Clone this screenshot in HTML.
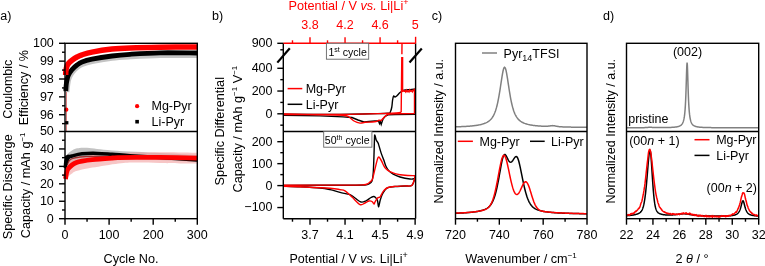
<!DOCTYPE html><html><head><meta charset="utf-8"><style>html,body{margin:0;padding:0;background:#fff;overflow:hidden}svg{display:block;will-change:transform}</style></head><body><svg width="765" height="266" viewBox="0 0 765 266" font-family='"Liberation Sans", sans-serif'>
<rect width="765" height="266" fill="#fff"/>
<path d="M65.3 163 C65.5 162 66.05 158.58 66.5 157 C66.95 155.42 67.08 154.6 68 153.5 C68.92 152.4 70.5 151.27 72 150.4 C73.5 149.53 74.5 148.73 77 148.3 C79.5 147.87 81.17 147.43 87 147.8 C92.83 148.17 99.83 149.63 112 150.5 C124.17 151.37 145.78 152.25 160 153 C174.22 153.75 191.08 154.67 197.3 155 L197.3 162 C191.08 161.67 174.22 160.58 160 160 C145.78 159.42 124.17 158.58 112 158.5 C99.83 158.42 92.83 159.08 87 159.5 C81.17 159.92 79.5 160.42 77 161 C74.5 161.58 73.5 162.17 72 163 C70.5 163.83 69.12 164.5 68 166 C66.88 167.5 65.75 171 65.3 172 Z" fill="#b4b4b4" fill-opacity="0.8" stroke="none"/>
<path d="M65.3 172 C65.5 171 66.05 167.58 66.5 166 C66.95 164.42 67.08 163.75 68 162.5 C68.92 161.25 69.67 159.58 72 158.5 C74.33 157.42 75.33 156.85 82 156 C88.67 155.15 99 154.02 112 153.4 C125 152.78 145.78 152.4 160 152.3 C174.22 152.2 191.08 152.72 197.3 152.8 L197.3 163.6 C191.08 163.48 170.22 163.1 160 162.9 C149.78 162.7 142.9 162.32 136 162.4 C129.1 162.48 125.88 162.53 118.6 163.4 C111.32 164.27 99.32 166.33 92.3 167.6 C85.28 168.87 79.88 170.02 76.5 171 C73.12 171.98 73.42 172.5 72 173.5 C70.58 174.5 69.12 175.58 68 177 C66.88 178.42 65.75 181.17 65.3 182 Z" fill="#f2a0a0" fill-opacity="0.6" stroke="none"/>
<path d="M64.9 156 L68 154.5 L71.5 155.2 L69.5 159 L67.5 164 L66 169 L64.9 170 Z" fill="#000"/>
<path d="M67 165 C67.33 164.33 68.17 162.07 69 161 C69.83 159.93 70.17 159.27 72 158.6 C73.83 157.93 76.67 157.37 80 157 C83.33 156.63 87 156.43 92 156.4 C97 156.37 103.67 156.67 110 156.8 C116.33 156.93 126.67 157.13 130 157.2" fill="none" stroke="#8a1010" stroke-opacity="0.8" stroke-width="1.3"/>
<path d="M65.3 168 C65.42 166.83 65.55 162.75 66 161 C66.45 159.25 67 158.33 68 157.5 C69 156.67 69.67 156.62 72 156 C74.33 155.38 77.83 154.23 82 153.8 C86.17 153.37 92 153.32 97 153.4 C102 153.48 106.5 153.92 112 154.3 C117.5 154.68 122 155.15 130 155.7 C138 156.25 148.78 156.88 160 157.6 C171.22 158.32 191.08 159.6 197.3 160" fill="none" stroke="#000" stroke-width="3.5"/>
<path d="M65.5 179 C65.67 178 66.08 174.67 66.5 173 C66.92 171.33 67.08 170.33 68 169 C68.92 167.67 70.58 166.07 72 165 C73.42 163.93 74.83 163.23 76.5 162.6 C78.17 161.97 79.37 161.68 82 161.2 C84.63 160.72 87.3 160.23 92.3 159.7 C97.3 159.17 107.62 158.35 112 158 C116.38 157.65 114.6 157.72 118.6 157.6 C122.6 157.48 129.1 157.33 136 157.3 C142.9 157.27 149.78 157.27 160 157.4 C170.22 157.53 191.08 157.98 197.3 158.1" fill="none" stroke="#f00" stroke-width="4.8"/>
<line x1="66.5" y1="76" x2="66.5" y2="131" stroke="#d07070" stroke-width="0.9" />
<path d="M66.4 92 C66.53 90.83 66.85 87.25 67.2 85 C67.55 82.75 67.7 80.67 68.5 78.5 C69.3 76.33 70.58 73.92 72 72 C73.42 70.08 75.33 68.33 77 67 C78.67 65.67 79.5 65 82 64 C84.5 63 87 62.05 92 61 C97 59.95 105.67 58.48 112 57.7 C118.33 56.92 122 56.75 130 56.3 C138 55.85 148.78 55.22 160 55 C171.22 54.78 191.08 55 197.3 55" fill="none" stroke="#c4c4c4" stroke-width="6"/>
<path d="M65.8 91 C65.87 90 66 86.83 66.2 85 C66.4 83.17 66.62 81.67 67 80 C67.38 78.33 67.67 76.73 68.5 75 C69.33 73.27 70.58 71.27 72 69.6 C73.42 67.93 75.33 66.27 77 65 C78.67 63.73 79.5 62.97 82 62 C84.5 61.03 87 60.2 92 59.2 C97 58.2 105.67 56.82 112 56 C118.33 55.18 122 54.83 130 54.3 C138 53.77 148.78 53.02 160 52.8 C171.22 52.58 191.08 52.97 197.3 53" fill="none" stroke="#000" stroke-width="4.8"/>
<path d="M65.7 75 C65.72 74.5 65.7 73.08 65.8 72 C65.9 70.92 66.07 69.58 66.3 68.5 C66.53 67.42 66.75 66.45 67.2 65.5 C67.65 64.55 68.2 63.68 69 62.8 C69.8 61.92 70.67 61.17 72 60.2 C73.33 59.23 75.33 57.9 77 57 C78.67 56.1 79.5 55.62 82 54.8 C84.5 53.98 87 53.05 92 52.1 C97 51.15 105.67 49.8 112 49.1 C118.33 48.4 122 48.22 130 47.9 C138 47.58 148.78 47.35 160 47.2 C171.22 47.05 191.08 47.03 197.3 47" fill="none" stroke="#f00" stroke-width="5.5"/>
<circle cx="66.3" cy="109.7" r="2.1" fill="#f00"/>
<rect x="65.1" y="121.1" width="3.3" height="3.3" fill="#000"/>
<rect x="65" y="43.3" width="132.3" height="175.4" fill="none" stroke="#000" stroke-width="1.4"/>
<line x1="65" y1="131.5" x2="197.3" y2="131.5" stroke="#000" stroke-width="1.4" />
<line x1="59" y1="43.3" x2="65" y2="43.3" stroke="#000" stroke-width="1.4" />
<text x="53.8" y="47.2" font-size="12.5" text-anchor="end" fill="#000" >100</text>
<line x1="59" y1="61.15" x2="65" y2="61.15" stroke="#000" stroke-width="1.4" />
<text x="53.8" y="65.05" font-size="12.5" text-anchor="end" fill="#000" >99</text>
<line x1="59" y1="79" x2="65" y2="79" stroke="#000" stroke-width="1.4" />
<text x="53.8" y="82.9" font-size="12.5" text-anchor="end" fill="#000" >98</text>
<line x1="59" y1="96.85" x2="65" y2="96.85" stroke="#000" stroke-width="1.4" />
<text x="53.8" y="100.75" font-size="12.5" text-anchor="end" fill="#000" >97</text>
<line x1="59" y1="114.7" x2="65" y2="114.7" stroke="#000" stroke-width="1.4" />
<text x="53.8" y="118.6" font-size="12.5" text-anchor="end" fill="#000" >96</text>
<line x1="62" y1="52.22" x2="65" y2="52.22" stroke="#000" stroke-width="1.4" />
<line x1="62" y1="70.08" x2="65" y2="70.08" stroke="#000" stroke-width="1.4" />
<line x1="62" y1="87.92" x2="65" y2="87.92" stroke="#000" stroke-width="1.4" />
<line x1="62" y1="105.78" x2="65" y2="105.78" stroke="#000" stroke-width="1.4" />
<line x1="62" y1="123.62" x2="65" y2="123.62" stroke="#000" stroke-width="1.4" />
<line x1="59" y1="131.5" x2="65" y2="131.5" stroke="#000" stroke-width="1.4" />
<text x="53.8" y="135.4" font-size="12.5" text-anchor="end" fill="#000" >50</text>
<line x1="59" y1="148.94" x2="65" y2="148.94" stroke="#000" stroke-width="1.4" />
<text x="53.8" y="152.84" font-size="12.5" text-anchor="end" fill="#000" >40</text>
<line x1="59" y1="166.38" x2="65" y2="166.38" stroke="#000" stroke-width="1.4" />
<text x="53.8" y="170.28" font-size="12.5" text-anchor="end" fill="#000" >30</text>
<line x1="59" y1="183.82" x2="65" y2="183.82" stroke="#000" stroke-width="1.4" />
<text x="53.8" y="187.72" font-size="12.5" text-anchor="end" fill="#000" >20</text>
<line x1="59" y1="201.26" x2="65" y2="201.26" stroke="#000" stroke-width="1.4" />
<text x="53.8" y="205.16" font-size="12.5" text-anchor="end" fill="#000" >10</text>
<line x1="59" y1="218.7" x2="65" y2="218.7" stroke="#000" stroke-width="1.4" />
<text x="53.8" y="222.6" font-size="12.5" text-anchor="end" fill="#000" >0</text>
<line x1="62" y1="140.22" x2="65" y2="140.22" stroke="#000" stroke-width="1.4" />
<line x1="62" y1="157.66" x2="65" y2="157.66" stroke="#000" stroke-width="1.4" />
<line x1="62" y1="175.1" x2="65" y2="175.1" stroke="#000" stroke-width="1.4" />
<line x1="62" y1="192.54" x2="65" y2="192.54" stroke="#000" stroke-width="1.4" />
<line x1="62" y1="209.98" x2="65" y2="209.98" stroke="#000" stroke-width="1.4" />
<line x1="65" y1="218.7" x2="65" y2="224.7" stroke="#000" stroke-width="1.4" />
<line x1="109.1" y1="218.7" x2="109.1" y2="224.7" stroke="#000" stroke-width="1.4" />
<line x1="153.2" y1="218.7" x2="153.2" y2="224.7" stroke="#000" stroke-width="1.4" />
<line x1="197.3" y1="218.7" x2="197.3" y2="224.7" stroke="#000" stroke-width="1.4" />
<line x1="87.05" y1="218.7" x2="87.05" y2="221.7" stroke="#000" stroke-width="1.4" />
<line x1="131.15" y1="218.7" x2="131.15" y2="221.7" stroke="#000" stroke-width="1.4" />
<line x1="175.25" y1="218.7" x2="175.25" y2="221.7" stroke="#000" stroke-width="1.4" />
<text x="65" y="238.8" font-size="12.5" text-anchor="middle" fill="#000" >0</text>
<text x="109.1" y="238.8" font-size="12.5" text-anchor="middle" fill="#000" >100</text>
<text x="153.2" y="238.8" font-size="12.5" text-anchor="middle" fill="#000" >200</text>
<text x="197.3" y="238.8" font-size="12.5" text-anchor="middle" fill="#000" >300</text>
<text x="131" y="263.3" font-size="12.7" text-anchor="middle" fill="#000" >Cycle No.</text>
<text x="0.2" y="20" font-size="12.5" text-anchor="start" fill="#000" >a)</text>
<circle cx="137.1" cy="106.2" r="2.1" fill="#f00"/>
<rect x="135.3" y="119.9" width="3.6" height="3.6" fill="#000"/>
<text x="151.5" y="110.2" font-size="12.5" text-anchor="start" fill="#000" >Mg-Pyr</text>
<text x="151.5" y="125.6" font-size="12.5" text-anchor="start" fill="#000" >Li-Pyr</text>
<text transform="translate(11.6,89.2) rotate(-90)" font-size="12.5" text-anchor="middle">Coulombic</text>
<text transform="translate(28,87.6) rotate(-90)" font-size="12.6" text-anchor="middle">Efficiency / %</text>
<text transform="translate(11.6,186.8) rotate(-90)" font-size="12.7" text-anchor="middle">Specific Discharge</text>
<text transform="translate(30.3,185.3) rotate(-90)" font-size="12.7" text-anchor="middle">Capacity / mAh g<tspan font-size="8" dy="-5">&#8722;1</tspan></text>
<path d="M283.3 114.2 C292.75 114.25 325.55 114.57 340 114.5 C354.45 114.43 362 114 370 113.8 C378 113.6 384.58 113.68 388 113.3 C391.42 112.92 389.87 112.55 390.5 111.5 C391.13 110.45 391.45 108.92 391.8 107 C392.15 105.08 392.3 101.83 392.6 100 C392.9 98.17 393.2 96.5 393.6 96 C394 95.5 394.43 97.03 395 97 C395.57 96.97 396.17 96.55 397 95.8 C397.83 95.05 398.83 93.43 400 92.5 C401.17 91.57 402.33 90.68 404 90.2 C405.67 89.72 408.12 89.77 410 89.6 C411.88 89.43 414.42 89.27 415.3 89.2" fill="none" stroke="#000" stroke-width="1.4"/>
<path d="M415.3 89.2 L415.3 114.3 L395 114.5 L388 114.8 L385 116.5 L383 119 L382 122 L381.2 124.5 L380.3 121.5 L379.5 123.5 L378.5 121 L375 121 L369 121.5 L364 122 L358 120 L352 117.5 L343 116.9 L320 115.9 L283.3 115.2" fill="none" stroke="#000" stroke-width="1.4"/>
<path d="M283.3 185.4 C289.97 185.38 341.83 185.24 350 185.2 C358.17 185.16 363.1 185.12 365 185 C366.9 184.88 368.3 184.4 369 184 C369.7 183.6 371.57 182.2 372 181 C372.43 179.8 373.1 174.6 373.3 172 C373.5 169.4 373.87 158.62 374 155 C374.13 151.38 374.47 137.65 374.6 135.8 C374.73 133.95 375.13 136.05 375.3 136.5 C375.47 136.95 376.01 139.63 376.3 140.3 C376.59 140.97 377.73 141.97 378.2 143.2 C378.67 144.43 380.44 150.92 381 152.6 C381.56 154.28 383.33 158.69 383.8 160 C384.27 161.31 385.23 164.66 385.7 165.7 C386.17 166.74 387.75 169.55 388.5 170.4 C389.25 171.25 392.05 173.54 393.2 174.2 C394.35 174.86 398.32 176.52 400 177 C401.68 177.48 408.6 178.84 410 179 C411.4 179.16 413.47 178.82 414 178.6 C414.53 178.38 415.17 176.98 415.3 176.8" fill="none" stroke="#000" stroke-width="1.4"/>
<path d="M415.3 176.8 C414.75 178.22 413.72 183.77 412 185.3 C410.28 186.83 407.83 185.8 405 186 C402.17 186.2 397.83 186.23 395 186.5 C392.17 186.77 389.67 187.02 388 187.6 C386.33 188.18 386 188.77 385 190 C384 191.23 382.83 193.17 382 195 C381.17 196.83 380.57 199 380 201 C379.43 203 379 207 378.6 207 C378.2 207 377.95 202.4 377.6 201 C377.25 199.6 377.1 199.35 376.5 198.6 C375.9 197.85 374.92 196.68 374 196.5 C373.08 196.32 372.33 196.78 371 197.5 C369.67 198.22 367.67 200.05 366 200.8 C364.33 201.55 362.83 202.47 361 202 C359.17 201.53 356.83 199.22 355 198 C353.17 196.78 352.5 195.63 350 194.7 C347.5 193.77 343.33 193.25 340 192.4 C336.67 191.55 333.33 190.33 330 189.6 C326.67 188.87 325 188.47 320 188 C315 187.53 306.12 187.1 300 186.8 C293.88 186.5 286.08 186.3 283.3 186.2" fill="none" stroke="#000" stroke-width="1.4"/>
<path d="M283.3 114 C292.75 114.07 323.88 114.47 340 114.4 C356.12 114.33 370.17 113.9 380 113.6 C389.83 113.3 395.47 113.12 399 112.6 C402.53 112.08 400.83 110.85 401.2 110.5 L401.8 57 M401.9 54.2 L402 43.3" fill="none" stroke="#f00" stroke-width="1.4"/>
<path d="M402.6 57 L402.6 91.2 L403.4 90.6 L404.1 91.4 L405 90.9 L405.8 92.1 L406.6 90.2 L407.4 91.6 L408.1 91 L409 92 L409.8 89.9 L410.7 91.3 L411.5 90.7 L412.3 91.8 L413.2 90 L414 90.9 L414.5 90 L414.5 113.6" fill="none" stroke="#f00" stroke-width="1.4"/>
<path d="M414.5 113.6 C411.25 113.63 399.42 113.67 395 113.8 C390.58 113.93 389.67 113.95 388 114.4 C386.33 114.85 385.83 115.82 385 116.5 C384.17 117.18 383.67 117.83 383 118.5 C382.33 119.17 381.67 120.22 381 120.5 C380.33 120.78 379.83 120.03 379 120.2 C378.17 120.37 377.17 121.2 376 121.5 C374.83 121.8 373.83 121.87 372 122 C370.17 122.13 367 122.12 365 122.3 C363 122.48 361.83 123.32 360 123.1 C358.17 122.88 355.83 122.02 354 121 C352.17 119.98 350.83 117.97 349 117 C347.17 116.03 347.83 115.58 343 115.2 C338.17 114.82 329.95 114.82 320 114.7 C310.05 114.58 289.42 114.53 283.3 114.5" fill="none" stroke="#f00" stroke-width="1.4"/>
<path d="M283.3 185.2 C294.42 185.18 336.55 185.17 350 185.1 C363.45 185.03 361 185.07 364 184.8 C367 184.53 366.92 184.05 368 183.5 C369.08 182.95 369.75 182.27 370.5 181.5 C371.25 180.73 371.7 181.22 372.5 178.9 C373.3 176.58 374.35 171.2 375.3 167.6 C376.25 164 377.25 158.57 378.2 157.3 C379.15 156.03 380.07 158.6 381 160 C381.93 161.4 383.02 164.28 383.8 165.7 C384.58 167.12 384.77 167.55 385.7 168.5 C386.63 169.45 387.85 170.55 389.4 171.4 C390.95 172.25 393.23 173.05 395 173.6 C396.77 174.15 398.33 174.42 400 174.7 C401.67 174.98 402.45 175.13 405 175.3 C407.55 175.47 413.58 175.63 415.3 175.7" fill="none" stroke="#f00" stroke-width="1.4"/>
<path d="M415.3 175.7 C414.75 177.3 413.72 183.6 412 185.3 C410.28 187 407.83 185.72 405 185.9 C402.17 186.08 397.83 186.13 395 186.4 C392.17 186.67 389.83 186.83 388 187.5 C386.17 188.17 385 189.4 384 190.4 C383 191.4 382.67 192.4 382 193.5 C381.33 194.6 380.75 196.25 380 197 C379.25 197.75 378.33 197.17 377.5 198 C376.67 198.83 375.58 201 375 202 C374.42 203 374.5 204.08 374 204 C373.5 203.92 372.83 202 372 201.5 C371.17 201 370.17 200.75 369 201 C367.83 201.25 366.5 202.4 365 203 C363.5 203.6 362.17 205.6 360 204.6 C357.83 203.6 354.5 199.3 352 197 C349.5 194.7 347 192.03 345 190.8 C343 189.57 342.5 190.03 340 189.6 C337.5 189.17 336.67 188.67 330 188.2 C323.33 187.73 307.78 187.13 300 186.8 C292.22 186.47 286.08 186.3 283.3 186.2" fill="none" stroke="#f00" stroke-width="1.4"/>
<line x1="283.3" y1="218.7" x2="415.6" y2="218.7" stroke="#000" stroke-width="1.4" />
<line x1="283.3" y1="43.3" x2="283.3" y2="218.7" stroke="#000" stroke-width="1.4" />
<line x1="415.6" y1="43.3" x2="415.6" y2="218.7" stroke="#000" stroke-width="1.4" />
<line x1="283.3" y1="131.5" x2="415.6" y2="131.5" stroke="#000" stroke-width="1.4" />
<line x1="283.3" y1="43.3" x2="415.6" y2="43.3" stroke="#f00" stroke-width="1.4" />
<line x1="415.6" y1="36.8" x2="415.6" y2="43.3" stroke="#f00" stroke-width="1.4" />
<line x1="277.3" y1="62.6" x2="289.8" y2="48.3" stroke="#000" stroke-width="2.2" />
<line x1="409.5" y1="62.4" x2="421.8" y2="48.4" stroke="#000" stroke-width="2.2" />
<line x1="277.3" y1="68.28" x2="283.3" y2="68.28" stroke="#000" stroke-width="1.4" />
<text x="272.5" y="72.18" font-size="12.5" text-anchor="end" fill="#000" >400</text>
<line x1="277.3" y1="91.04" x2="283.3" y2="91.04" stroke="#000" stroke-width="1.4" />
<text x="272.5" y="94.94" font-size="12.5" text-anchor="end" fill="#000" >200</text>
<line x1="277.3" y1="113.8" x2="283.3" y2="113.8" stroke="#000" stroke-width="1.4" />
<text x="272.5" y="117.7" font-size="12.5" text-anchor="end" fill="#000" >0</text>
<line x1="277.3" y1="43.3" x2="283.3" y2="43.3" stroke="#000" stroke-width="1.4" />
<text x="272.5" y="47.2" font-size="12.5" text-anchor="end" fill="#000" >900</text>
<line x1="280.3" y1="49.8" x2="283.3" y2="49.8" stroke="#000" stroke-width="1.4" />
<line x1="280.3" y1="79.66" x2="283.3" y2="79.66" stroke="#000" stroke-width="1.4" />
<line x1="280.3" y1="102.42" x2="283.3" y2="102.42" stroke="#000" stroke-width="1.4" />
<line x1="280.3" y1="125.18" x2="283.3" y2="125.18" stroke="#000" stroke-width="1.4" />
<line x1="277.3" y1="141.7" x2="283.3" y2="141.7" stroke="#000" stroke-width="1.4" />
<text x="272.5" y="145.6" font-size="12.5" text-anchor="end" fill="#000" >200</text>
<line x1="277.3" y1="163.65" x2="283.3" y2="163.65" stroke="#000" stroke-width="1.4" />
<text x="272.5" y="167.55" font-size="12.5" text-anchor="end" fill="#000" >100</text>
<line x1="277.3" y1="185.6" x2="283.3" y2="185.6" stroke="#000" stroke-width="1.4" />
<text x="272.5" y="189.5" font-size="12.5" text-anchor="end" fill="#000" >0</text>
<line x1="277.3" y1="207.55" x2="283.3" y2="207.55" stroke="#000" stroke-width="1.4" />
<text x="272.5" y="211.45" font-size="12.5" text-anchor="end" fill="#000" >&#8722;100</text>
<line x1="280.3" y1="152.68" x2="283.3" y2="152.68" stroke="#000" stroke-width="1.4" />
<line x1="280.3" y1="174.62" x2="283.3" y2="174.62" stroke="#000" stroke-width="1.4" />
<line x1="280.3" y1="196.57" x2="283.3" y2="196.57" stroke="#000" stroke-width="1.4" />
<line x1="310" y1="218.7" x2="310" y2="224.7" stroke="#000" stroke-width="1.4" />
<line x1="345.04" y1="218.7" x2="345.04" y2="224.7" stroke="#000" stroke-width="1.4" />
<line x1="380.08" y1="218.7" x2="380.08" y2="224.7" stroke="#000" stroke-width="1.4" />
<line x1="415.12" y1="218.7" x2="415.12" y2="224.7" stroke="#000" stroke-width="1.4" />
<line x1="292.48" y1="218.7" x2="292.48" y2="221.7" stroke="#000" stroke-width="1.4" />
<line x1="327.52" y1="218.7" x2="327.52" y2="221.7" stroke="#000" stroke-width="1.4" />
<line x1="362.56" y1="218.7" x2="362.56" y2="221.7" stroke="#000" stroke-width="1.4" />
<line x1="397.6" y1="218.7" x2="397.6" y2="221.7" stroke="#000" stroke-width="1.4" />
<text x="310" y="238.8" font-size="12.5" text-anchor="middle" fill="#000" >3.7</text>
<text x="345.04" y="238.8" font-size="12.5" text-anchor="middle" fill="#000" >4.1</text>
<text x="380.08" y="238.8" font-size="12.5" text-anchor="middle" fill="#000" >4.5</text>
<text x="415.12" y="238.8" font-size="12.5" text-anchor="middle" fill="#000" >4.9</text>
<line x1="310" y1="43.3" x2="310" y2="37.3" stroke="#f00" stroke-width="1.4" />
<line x1="345.04" y1="43.3" x2="345.04" y2="37.3" stroke="#f00" stroke-width="1.4" />
<line x1="380.08" y1="43.3" x2="380.08" y2="37.3" stroke="#f00" stroke-width="1.4" />
<line x1="292.48" y1="43.3" x2="292.48" y2="40.3" stroke="#f00" stroke-width="1.4" />
<line x1="327.52" y1="43.3" x2="327.52" y2="40.3" stroke="#f00" stroke-width="1.4" />
<line x1="362.56" y1="43.3" x2="362.56" y2="40.3" stroke="#f00" stroke-width="1.4" />
<line x1="397.6" y1="43.3" x2="397.6" y2="40.3" stroke="#f00" stroke-width="1.4" />
<text x="310" y="28.8" font-size="12.5" text-anchor="middle" fill="#f00" >3.8</text>
<text x="345.04" y="28.8" font-size="12.5" text-anchor="middle" fill="#f00" >4.2</text>
<text x="380.08" y="28.8" font-size="12.5" text-anchor="middle" fill="#f00" >4.6</text>
<text x="415.12" y="28.8" font-size="12.5" text-anchor="middle" fill="#f00" >5</text>
<text x="348.5" y="10.2" font-size="12.7" text-anchor="middle" fill="#f00" >Potential / V <tspan font-style="italic">vs.</tspan> Li|Li<tspan font-size="9" dy="-5">+</tspan></text>
<text x="348.6" y="263.2" font-size="12.5" text-anchor="middle" fill="#000" >Potential / V <tspan font-style="italic">vs.</tspan> Li|Li<tspan font-size="9" dy="-5">+</tspan></text>
<text x="212" y="19.5" font-size="12.5" text-anchor="start" fill="#000" >b)</text>
<rect x="326.4" y="43.3" width="42.3" height="15.9" fill="#fff" stroke="#666" stroke-width="0.9"/>
<text x="328.4" y="56.1" font-size="10.6" text-anchor="start" fill="#000" >1<tspan font-size="7" dy="-4">st</tspan><tspan dy="4"> cycle</tspan></text>
<rect x="323.7" y="131.5" width="48.2" height="15.7" fill="#fff" stroke="#666" stroke-width="0.9"/>
<text x="324.8" y="143.9" font-size="10.6" text-anchor="start" fill="#000" >50<tspan font-size="7" dy="-4">th</tspan><tspan dy="4"> cycle</tspan></text>
<line x1="287.6" y1="88.6" x2="302.3" y2="88.6" stroke="#f00" stroke-width="1.5" />
<text x="305.7" y="93.2" font-size="12.5" text-anchor="start" fill="#000" >Mg-Pyr</text>
<line x1="287.6" y1="104.3" x2="302.3" y2="104.3" stroke="#000" stroke-width="1.5" />
<text x="305.7" y="108.8" font-size="12.5" text-anchor="start" fill="#000" >Li-Pyr</text>
<text transform="translate(223.8,131.2) rotate(-90)" font-size="12.7" text-anchor="middle">Specific Differential</text>
<text transform="translate(241.7,129.1) rotate(-90)" font-size="12.7" text-anchor="middle">Capacity / mAh g<tspan font-size="8" dy="-5">&#8722;1</tspan><tspan dy="5"> V</tspan><tspan font-size="8" dy="-5">&#8722;1</tspan></text>
<path d="M455.5 126.84 L456.01 126.83 L456.51 126.81 L457.02 126.8 L457.52 126.78 L458.03 126.76 L458.53 126.74 L459.04 126.72 L459.55 126.7 L460.05 126.68 L460.56 126.66 L461.06 126.64 L461.57 126.62 L462.07 126.6 L462.58 126.57 L463.09 126.55 L463.59 126.52 L464.1 126.5 L464.6 126.47 L465.11 126.44 L465.62 126.41 L466.12 126.38 L466.63 126.35 L467.13 126.32 L467.64 126.28 L468.14 126.25 L468.65 126.21 L469.16 126.17 L469.66 126.13 L470.17 126.09 L470.67 126.04 L471.18 126 L471.68 125.95 L472.19 125.9 L472.7 125.85 L473.2 125.79 L473.71 125.73 L474.21 125.67 L474.72 125.61 L475.23 125.54 L475.73 125.47 L476.24 125.4 L476.74 125.32 L477.25 125.24 L477.75 125.16 L478.26 125.07 L478.77 124.97 L479.27 124.87 L479.78 124.77 L480.28 124.66 L480.79 124.54 L481.29 124.41 L481.8 124.28 L482.31 124.13 L482.81 123.98 L483.32 123.82 L483.82 123.65 L484.33 123.47 L484.83 123.27 L485.34 123.06 L485.85 122.83 L486.35 122.59 L486.86 122.33 L487.36 122.05 L487.87 121.74 L488.38 121.41 L488.88 121.05 L489.39 120.66 L489.89 120.23 L490.4 119.76 L490.9 119.24 L491.41 118.66 L491.92 118.02 L492.42 117.31 L492.93 116.52 L493.43 115.64 L493.94 114.65 L494.44 113.55 L494.95 112.31 L495.46 110.92 L495.96 109.37 L496.47 107.64 L496.97 105.72 L497.48 103.59 L497.98 101.25 L498.49 98.69 L499 95.92 L499.5 92.94 L500.01 89.78 L500.51 86.49 L501.02 83.12 L501.52 79.77 L502.03 76.54 L502.54 73.58 L503.04 71.03 L503.55 69.05 L504.05 67.78 L504.56 67.29 L505.07 67.64 L505.57 68.8 L506.08 70.67 L506.58 73.14 L507.09 76.05 L507.59 79.24 L508.1 82.58 L508.61 85.95 L509.11 89.26 L509.62 92.44 L510.12 95.45 L510.63 98.26 L511.13 100.85 L511.64 103.23 L512.15 105.39 L512.65 107.34 L513.16 109.1 L513.66 110.68 L514.17 112.09 L514.67 113.35 L515.18 114.48 L515.69 115.48 L516.19 116.38 L516.7 117.18 L517.2 117.91 L517.71 118.55 L518.22 119.14 L518.72 119.66 L519.23 120.14 L519.73 120.58 L520.24 120.98 L520.74 121.34 L521.25 121.68 L521.76 121.99 L522.26 122.27 L522.77 122.53 L523.27 122.78 L523.78 123.01 L524.28 123.22 L524.79 123.42 L525.3 123.6 L525.8 123.77 L526.31 123.94 L526.81 124.09 L527.32 124.23 L527.83 124.36 L528.33 124.49 L528.84 124.61 L529.34 124.72 L529.85 124.83 L530.35 124.92 L530.86 125.02 L531.37 125.11 L531.87 125.19 L532.38 125.27 L532.88 125.35 L533.39 125.42 L533.89 125.49 L534.4 125.55 L534.91 125.61 L535.41 125.67 L535.92 125.72 L536.42 125.77 L536.93 125.82 L537.43 125.87 L537.94 125.91 L538.45 125.95 L538.95 125.99 L539.46 126.03 L539.96 126.06 L540.47 126.09 L540.98 126.12 L541.48 126.15 L541.99 126.17 L542.49 126.19 L543 126.21 L543.5 126.23 L544.01 126.24 L544.52 126.25 L545.02 126.25 L545.53 126.25 L546.03 126.25 L546.54 126.24 L547.04 126.22 L547.55 126.2 L548.06 126.17 L548.56 126.12 L549.07 126.07 L549.57 126.01 L550.08 125.94 L550.58 125.86 L551.09 125.78 L551.6 125.71 L552.1 125.65 L552.61 125.62 L553.11 125.63 L553.62 125.67 L554.12 125.75 L554.63 125.84 L555.14 125.95 L555.64 126.07 L556.15 126.17 L556.65 126.27 L557.16 126.36 L557.67 126.44 L558.17 126.52 L558.68 126.58 L559.18 126.63 L559.69 126.68 L560.19 126.73 L560.7 126.77 L561.21 126.8 L561.71 126.83 L562.22 126.86 L562.72 126.89 L563.23 126.91 L563.73 126.93 L564.24 126.95 L564.75 126.97 L565.25 126.99 L565.76 127 L566.26 127.02 L566.77 127.03 L567.27 127.05 L567.78 127.06 L568.29 127.07 L568.79 127.08 L569.3 127.09 L569.8 127.11 L570.31 127.12 L570.82 127.12 L571.32 127.13 L571.83 127.14 L572.33 127.15 L572.84 127.16 L573.34 127.17 L573.85 127.18 L574.36 127.18 L574.86 127.19 L575.37 127.2 L575.87 127.2 L576.38 127.21 L576.88 127.22 L577.39 127.22 L577.9 127.23 L578.4 127.23 L578.91 127.24 L579.41 127.25 L579.92 127.25 L580.42 127.26 L580.93 127.26 L581.44 127.27 L581.94 127.27 L582.45 127.28 L582.95 127.28 L583.46 127.28 L583.97 127.29 L584.47 127.29 L584.98 127.3 L585.48 127.3 L585.99 127.31 L586.49 127.31 L587 127.31" fill="none" stroke="#808080" stroke-width="1.5"/>
<path d="M455.5 213.27 L456.01 213.25 L456.51 213.24 L457.02 213.22 L457.52 213.2 L458.03 213.17 L458.53 213.15 L459.04 213.13 L459.55 213.11 L460.05 213.08 L460.56 213.06 L461.06 213.04 L461.57 213.01 L462.07 212.98 L462.58 212.95 L463.09 212.93 L463.59 212.9 L464.1 212.87 L464.6 212.83 L465.11 212.8 L465.62 212.77 L466.12 212.73 L466.63 212.7 L467.13 212.66 L467.64 212.62 L468.14 212.58 L468.65 212.54 L469.16 212.49 L469.66 212.45 L470.17 212.4 L470.67 212.35 L471.18 212.3 L471.68 212.25 L472.19 212.19 L472.7 212.13 L473.2 212.07 L473.71 212.01 L474.21 211.94 L474.72 211.87 L475.23 211.8 L475.73 211.73 L476.24 211.65 L476.74 211.56 L477.25 211.48 L477.75 211.39 L478.26 211.29 L478.77 211.19 L479.27 211.08 L479.78 210.97 L480.28 210.85 L480.79 210.73 L481.29 210.59 L481.8 210.45 L482.31 210.3 L482.81 210.14 L483.32 209.97 L483.82 209.79 L484.33 209.6 L484.83 209.39 L485.34 209.16 L485.85 208.91 L486.35 208.64 L486.86 208.35 L487.36 208.03 L487.87 207.67 L488.38 207.28 L488.88 206.84 L489.39 206.35 L489.89 205.81 L490.4 205.21 L490.9 204.53 L491.41 203.77 L491.92 202.92 L492.42 201.97 L492.93 200.92 L493.43 199.74 L493.94 198.44 L494.44 197 L494.95 195.42 L495.46 193.69 L495.96 191.8 L496.47 189.75 L496.97 187.55 L497.48 185.19 L497.98 182.69 L498.49 180.05 L499 177.31 L499.5 174.48 L500.01 171.62 L500.51 168.76 L501.02 165.97 L501.52 163.33 L502.03 160.91 L502.54 158.8 L503.04 157.06 L503.55 155.75 L504.05 154.91 L504.56 154.53 L505.07 154.58 L505.57 155 L506.08 155.72 L506.58 156.63 L507.09 157.65 L507.59 158.7 L508.1 159.69 L508.61 160.58 L509.11 161.3 L509.62 161.84 L510.12 162.16 L510.63 162.27 L511.13 162.16 L511.64 161.84 L512.15 161.35 L512.65 160.7 L513.16 159.94 L513.66 159.13 L514.17 158.32 L514.67 157.58 L515.18 156.98 L515.69 156.59 L516.19 156.48 L516.7 156.68 L517.2 157.24 L517.71 158.17 L518.22 159.46 L518.72 161.07 L519.23 162.98 L519.73 165.12 L520.24 167.43 L520.74 169.88 L521.25 172.39 L521.76 174.93 L522.26 177.46 L522.77 179.95 L523.27 182.36 L523.78 184.69 L524.28 186.9 L524.79 189.01 L525.3 190.99 L525.8 192.84 L526.31 194.56 L526.81 196.15 L527.32 197.62 L527.83 198.97 L528.33 200.19 L528.84 201.31 L529.34 202.32 L529.85 203.24 L530.35 204.06 L530.86 204.8 L531.37 205.47 L531.87 206.06 L532.38 206.6 L532.88 207.08 L533.39 207.52 L533.89 207.91 L534.4 208.26 L534.91 208.57 L535.41 208.86 L535.92 209.13 L536.42 209.37 L536.93 209.59 L537.43 209.79 L537.94 209.98 L538.45 210.15 L538.95 210.31 L539.46 210.46 L539.96 210.61 L540.47 210.74 L540.98 210.86 L541.48 210.98 L541.99 211.09 L542.49 211.2 L543 211.3 L543.5 211.39 L544.01 211.49 L544.52 211.57 L545.02 211.65 L545.53 211.73 L546.03 211.81 L546.54 211.88 L547.04 211.95 L547.55 212.01 L548.06 212.07 L548.56 212.13 L549.07 212.19 L549.57 212.25 L550.08 212.3 L550.58 212.35 L551.09 212.4 L551.6 212.45 L552.1 212.49 L552.61 212.54 L553.11 212.58 L553.62 212.62 L554.12 212.66 L554.63 212.7 L555.14 212.73 L555.64 212.77 L556.15 212.8 L556.65 212.83 L557.16 212.87 L557.67 212.9 L558.17 212.93 L558.68 212.95 L559.18 212.98 L559.69 213.01 L560.19 213.03 L560.7 213.06 L561.21 213.08 L561.71 213.11 L562.22 213.13 L562.72 213.15 L563.23 213.17 L563.73 213.19 L564.24 213.21 L564.75 213.23 L565.25 213.25 L565.76 213.27 L566.26 213.29 L566.77 213.31 L567.27 213.32 L567.78 213.34 L568.29 213.36 L568.79 213.37 L569.3 213.39 L569.8 213.4 L570.31 213.42 L570.82 213.43 L571.32 213.45 L571.83 213.46 L572.33 213.47 L572.84 213.49 L573.34 213.5 L573.85 213.51 L574.36 213.52 L574.86 213.53 L575.37 213.55 L575.87 213.56 L576.38 213.57 L576.88 213.58 L577.39 213.59 L577.9 213.6 L578.4 213.61 L578.91 213.62 L579.41 213.63 L579.92 213.64 L580.42 213.65 L580.93 213.65 L581.44 213.66 L581.94 213.67 L582.45 213.68 L582.95 213.69 L583.46 213.69 L583.97 213.7 L584.47 213.71 L584.98 213.72 L585.48 213.72 L585.99 213.73 L586.49 213.74 L587 213.75" fill="none" stroke="#000" stroke-width="1.5"/>
<path d="M455.5 213.16 L456.01 213.14 L456.51 213.12 L457.02 213.1 L457.52 213.08 L458.03 213.06 L458.53 213.03 L459.04 213.01 L459.55 212.99 L460.05 212.96 L460.56 212.94 L461.06 212.91 L461.57 212.88 L462.07 212.86 L462.58 212.83 L463.09 212.8 L463.59 212.77 L464.1 212.74 L464.6 212.71 L465.11 212.67 L465.62 212.64 L466.12 212.61 L466.63 212.57 L467.13 212.53 L467.64 212.49 L468.14 212.46 L468.65 212.41 L469.16 212.37 L469.66 212.33 L470.17 212.28 L470.67 212.24 L471.18 212.19 L471.68 212.14 L472.19 212.09 L472.7 212.04 L473.2 211.98 L473.71 211.92 L474.21 211.86 L474.72 211.8 L475.23 211.74 L475.73 211.67 L476.24 211.6 L476.74 211.53 L477.25 211.45 L477.75 211.38 L478.26 211.29 L478.77 211.21 L479.27 211.12 L479.78 211.03 L480.28 210.93 L480.79 210.82 L481.29 210.71 L481.8 210.59 L482.31 210.47 L482.81 210.33 L483.32 210.19 L483.82 210.03 L484.33 209.86 L484.83 209.67 L485.34 209.45 L485.85 209.22 L486.35 208.95 L486.86 208.65 L487.36 208.31 L487.87 207.92 L488.38 207.47 L488.88 206.97 L489.39 206.39 L489.89 205.72 L490.4 204.97 L490.9 204.11 L491.41 203.13 L491.92 202.03 L492.42 200.8 L492.93 199.42 L493.43 197.89 L493.94 196.21 L494.44 194.37 L494.95 192.37 L495.46 190.22 L495.96 187.92 L496.47 185.49 L496.97 182.95 L497.48 180.31 L497.98 177.6 L498.49 174.85 L499 172.11 L499.5 169.41 L500.01 166.8 L500.51 164.34 L501.02 162.06 L501.52 160.04 L502.03 158.32 L502.54 156.95 L503.04 155.97 L503.55 155.42 L504.05 155.31 L504.56 155.63 L505.07 156.37 L505.57 157.5 L506.08 158.98 L506.58 160.75 L507.09 162.76 L507.59 164.96 L508.1 167.29 L508.61 169.7 L509.11 172.15 L509.62 174.6 L510.12 177.01 L510.63 179.34 L511.13 181.57 L511.64 183.67 L512.15 185.63 L512.65 187.41 L513.16 189.02 L513.66 190.43 L514.17 191.64 L514.67 192.65 L515.18 193.44 L515.69 194.02 L516.19 194.38 L516.7 194.54 L517.2 194.49 L517.71 194.24 L518.22 193.8 L518.72 193.19 L519.23 192.42 L519.73 191.52 L520.24 190.52 L520.74 189.43 L521.25 188.3 L521.76 187.15 L522.26 186.02 L522.77 184.96 L523.27 184 L523.78 183.17 L524.28 182.5 L524.79 182.03 L525.3 181.77 L525.8 181.74 L526.31 181.95 L526.81 182.39 L527.32 183.08 L527.83 183.98 L528.33 185.08 L528.84 186.36 L529.34 187.78 L529.85 189.31 L530.35 190.93 L530.86 192.59 L531.37 194.26 L531.87 195.92 L532.38 197.54 L532.88 199.08 L533.39 200.55 L533.89 201.91 L534.4 203.17 L534.91 204.31 L535.41 205.34 L535.92 206.25 L536.42 207.06 L536.93 207.76 L537.43 208.37 L537.94 208.9 L538.45 209.34 L538.95 209.72 L539.46 210.05 L539.96 210.32 L540.47 210.55 L540.98 210.75 L541.48 210.92 L541.99 211.06 L542.49 211.19 L543 211.3 L543.5 211.4 L544.01 211.49 L544.52 211.57 L545.02 211.64 L545.53 211.71 L546.03 211.78 L546.54 211.84 L547.04 211.9 L547.55 211.96 L548.06 212.01 L548.56 212.06 L549.07 212.11 L549.57 212.16 L550.08 212.21 L550.58 212.25 L551.09 212.3 L551.6 212.34 L552.1 212.38 L552.61 212.42 L553.11 212.46 L553.62 212.5 L554.12 212.53 L554.63 212.57 L555.14 212.6 L555.64 212.64 L556.15 212.67 L556.65 212.7 L557.16 212.73 L557.67 212.76 L558.17 212.79 L558.68 212.82 L559.18 212.85 L559.69 212.87 L560.19 212.9 L560.7 212.93 L561.21 212.95 L561.71 212.98 L562.22 213 L562.72 213.02 L563.23 213.04 L563.73 213.07 L564.24 213.09 L564.75 213.11 L565.25 213.13 L565.76 213.15 L566.26 213.17 L566.77 213.19 L567.27 213.21 L567.78 213.22 L568.29 213.24 L568.79 213.26 L569.3 213.27 L569.8 213.29 L570.31 213.31 L570.82 213.32 L571.32 213.34 L571.83 213.35 L572.33 213.37 L572.84 213.38 L573.34 213.4 L573.85 213.41 L574.36 213.42 L574.86 213.44 L575.37 213.45 L575.87 213.46 L576.38 213.47 L576.88 213.48 L577.39 213.5 L577.9 213.51 L578.4 213.52 L578.91 213.53 L579.41 213.54 L579.92 213.55 L580.42 213.56 L580.93 213.57 L581.44 213.58 L581.94 213.59 L582.45 213.6 L582.95 213.61 L583.46 213.62 L583.97 213.63 L584.47 213.64 L584.98 213.65 L585.48 213.65 L585.99 213.66 L586.49 213.67 L587 213.68" fill="none" stroke="#f00" stroke-width="1.5"/>
<rect x="455.5" y="43.3" width="131.5" height="175.4" fill="none" stroke="#000" stroke-width="1.4"/>
<line x1="455.5" y1="131.5" x2="587" y2="131.5" stroke="#000" stroke-width="1.4" />
<line x1="455.5" y1="218.7" x2="455.5" y2="224.7" stroke="#000" stroke-width="1.4" />
<line x1="499.33" y1="218.7" x2="499.33" y2="224.7" stroke="#000" stroke-width="1.4" />
<line x1="543.17" y1="218.7" x2="543.17" y2="224.7" stroke="#000" stroke-width="1.4" />
<line x1="587" y1="218.7" x2="587" y2="224.7" stroke="#000" stroke-width="1.4" />
<line x1="477.42" y1="218.7" x2="477.42" y2="221.7" stroke="#000" stroke-width="1.4" />
<line x1="521.25" y1="218.7" x2="521.25" y2="221.7" stroke="#000" stroke-width="1.4" />
<line x1="565.08" y1="218.7" x2="565.08" y2="221.7" stroke="#000" stroke-width="1.4" />
<text x="455.5" y="238.8" font-size="12.5" text-anchor="middle" fill="#000" >720</text>
<text x="499.33" y="238.8" font-size="12.5" text-anchor="middle" fill="#000" >740</text>
<text x="543.17" y="238.8" font-size="12.5" text-anchor="middle" fill="#000" >760</text>
<text x="587" y="238.8" font-size="12.5" text-anchor="middle" fill="#000" >780</text>
<text x="521" y="263.2" font-size="12.7" text-anchor="middle" fill="#000" >Wavenumber / cm<tspan font-size="8" dy="-5">&#8722;1</tspan></text>
<text x="431.7" y="19.5" font-size="12.5" text-anchor="start" fill="#000" >c)</text>
<line x1="482" y1="53" x2="497" y2="53" stroke="#808080" stroke-width="1.5" />
<text x="503.6" y="57.8" font-size="12.5" text-anchor="start" fill="#000" >Pyr<tspan font-size="9" dy="3.3">14</tspan><tspan dy="-3.3">TFSI</tspan></text>
<line x1="457.8" y1="141.3" x2="472.9" y2="141.3" stroke="#f00" stroke-width="1.5" />
<text x="479.5" y="145.9" font-size="12.5" text-anchor="start" fill="#000" >Mg-Pyr</text>
<line x1="530" y1="141.3" x2="544.7" y2="141.3" stroke="#000" stroke-width="1.5" />
<text x="551" y="145.9" font-size="12.5" text-anchor="start" fill="#000" >Li-Pyr</text>
<text transform="translate(443.4,131.2) rotate(-90)" font-size="12.5" text-anchor="middle">Normalized Intensity / a.u.</text>
<path d="M626.5 127.76 L626.75 127.76 L627 127.76 L627.25 127.76 L627.5 127.76 L627.75 127.76 L628 127.76 L628.25 127.76 L628.5 127.76 L628.75 127.76 L629 127.76 L629.25 127.76 L629.5 127.76 L629.75 127.76 L630.01 127.76 L630.26 127.76 L630.51 127.76 L630.76 127.76 L631.01 127.76 L631.26 127.75 L631.51 127.75 L631.76 127.75 L632.01 127.75 L632.26 127.75 L632.51 127.75 L632.76 127.75 L633.01 127.75 L633.26 127.75 L633.51 127.75 L633.76 127.75 L634.01 127.75 L634.26 127.75 L634.51 127.75 L634.76 127.74 L635.01 127.74 L635.26 127.74 L635.51 127.74 L635.76 127.74 L636.01 127.74 L636.26 127.74 L636.52 127.74 L636.77 127.74 L637.02 127.73 L637.27 127.73 L637.52 127.73 L637.77 127.73 L638.02 127.73 L638.27 127.73 L638.52 127.72 L638.77 127.72 L639.02 127.72 L639.27 127.72 L639.52 127.72 L639.77 127.71 L640.02 127.71 L640.27 127.71 L640.52 127.71 L640.77 127.7 L641.02 127.7 L641.27 127.7 L641.52 127.7 L641.77 127.69 L642.02 127.69 L642.27 127.68 L642.52 127.68 L642.77 127.67 L643.02 127.67 L643.28 127.66 L643.53 127.66 L643.78 127.65 L644.03 127.64 L644.28 127.64 L644.53 127.63 L644.78 127.62 L645.03 127.61 L645.28 127.6 L645.53 127.59 L645.78 127.57 L646.03 127.56 L646.28 127.54 L646.53 127.52 L646.78 127.5 L647.03 127.48 L647.28 127.46 L647.53 127.44 L647.78 127.41 L648.03 127.38 L648.28 127.36 L648.53 127.33 L648.78 127.3 L649.03 127.28 L649.28 127.26 L649.53 127.24 L649.79 127.23 L650.04 127.23 L650.29 127.23 L650.54 127.24 L650.79 127.25 L651.04 127.28 L651.29 127.3 L651.54 127.32 L651.79 127.35 L652.04 127.38 L652.29 127.4 L652.54 127.42 L652.79 127.45 L653.04 127.47 L653.29 127.48 L653.54 127.5 L653.79 127.52 L654.04 127.53 L654.29 127.54 L654.54 127.55 L654.79 127.56 L655.04 127.57 L655.29 127.58 L655.54 127.58 L655.79 127.59 L656.04 127.6 L656.3 127.6 L656.55 127.6 L656.8 127.61 L657.05 127.61 L657.3 127.61 L657.55 127.62 L657.8 127.62 L658.05 127.62 L658.3 127.62 L658.55 127.62 L658.8 127.62 L659.05 127.62 L659.3 127.62 L659.55 127.62 L659.8 127.62 L660.05 127.62 L660.3 127.62 L660.55 127.62 L660.8 127.62 L661.05 127.62 L661.3 127.61 L661.55 127.61 L661.8 127.61 L662.05 127.61 L662.3 127.61 L662.55 127.6 L662.8 127.6 L663.06 127.6 L663.31 127.6 L663.56 127.59 L663.81 127.59 L664.06 127.59 L664.31 127.58 L664.56 127.58 L664.81 127.58 L665.06 127.57 L665.31 127.57 L665.56 127.56 L665.81 127.56 L666.06 127.55 L666.31 127.55 L666.56 127.54 L666.81 127.54 L667.06 127.53 L667.31 127.53 L667.56 127.52 L667.81 127.51 L668.06 127.51 L668.31 127.5 L668.56 127.49 L668.81 127.48 L669.06 127.48 L669.31 127.47 L669.57 127.46 L669.82 127.45 L670.07 127.44 L670.32 127.43 L670.57 127.42 L670.82 127.41 L671.07 127.4 L671.32 127.38 L671.57 127.37 L671.82 127.36 L672.07 127.34 L672.32 127.33 L672.57 127.31 L672.82 127.29 L673.07 127.28 L673.32 127.26 L673.57 127.24 L673.82 127.22 L674.07 127.2 L674.32 127.17 L674.57 127.15 L674.82 127.12 L675.07 127.1 L675.32 127.07 L675.57 127.03 L675.82 127 L676.08 126.96 L676.33 126.93 L676.58 126.89 L676.83 126.84 L677.08 126.79 L677.33 126.74 L677.58 126.69 L677.83 126.63 L678.08 126.56 L678.33 126.49 L678.58 126.42 L678.83 126.34 L679.08 126.25 L679.33 126.15 L679.58 126.04 L679.83 125.92 L680.08 125.79 L680.33 125.64 L680.58 125.48 L680.83 125.3 L681.08 125.09 L681.33 124.87 L681.58 124.61 L681.83 124.31 L682.08 123.98 L682.33 123.59 L682.58 123.15 L682.84 122.63 L683.09 122.02 L683.34 121.31 L683.59 120.46 L683.84 119.44 L684.09 118.21 L684.34 116.7 L684.59 114.84 L684.84 112.52 L685.09 109.6 L685.34 105.92 L685.59 101.26 L685.84 95.41 L686.09 88.28 L686.34 80.1 L686.59 71.79 L686.84 65.18 L687.09 62.5 L687.34 64.86 L687.59 71.27 L687.84 79.54 L688.09 87.77 L688.34 94.98 L688.59 100.91 L688.84 105.64 L689.09 109.38 L689.35 112.34 L689.6 114.7 L689.85 116.59 L690.1 118.12 L690.35 119.37 L690.6 120.4 L690.85 121.26 L691.1 121.98 L691.35 122.59 L691.6 123.12 L691.85 123.57 L692.1 123.96 L692.35 124.29 L692.6 124.59 L692.85 124.85 L693.1 125.08 L693.35 125.29 L693.6 125.47 L693.85 125.63 L694.1 125.78 L694.35 125.91 L694.6 126.03 L694.85 126.14 L695.1 126.24 L695.35 126.33 L695.6 126.42 L695.85 126.49 L696.11 126.56 L696.36 126.63 L696.61 126.69 L696.86 126.74 L697.11 126.79 L697.36 126.84 L697.61 126.89 L697.86 126.93 L698.11 126.97 L698.36 127 L698.61 127.04 L698.86 127.07 L699.11 127.1 L699.36 127.13 L699.61 127.15 L699.86 127.18 L700.11 127.2 L700.36 127.22 L700.61 127.24 L700.86 127.26 L701.11 127.28 L701.36 127.3 L701.61 127.32 L701.86 127.33 L702.11 127.35 L702.36 127.36 L702.62 127.38 L702.87 127.39 L703.12 127.4 L703.37 127.42 L703.62 127.43 L703.87 127.44 L704.12 127.45 L704.37 127.46 L704.62 127.47 L704.87 127.48 L705.12 127.49 L705.37 127.49 L705.62 127.5 L705.87 127.51 L706.12 127.52 L706.37 127.52 L706.62 127.53 L706.87 127.54 L707.12 127.55 L707.37 127.55 L707.62 127.56 L707.87 127.56 L708.12 127.57 L708.37 127.57 L708.62 127.58 L708.87 127.58 L709.12 127.59 L709.38 127.59 L709.63 127.6 L709.88 127.6 L710.13 127.61 L710.38 127.61 L710.63 127.61 L710.88 127.62 L711.13 127.62 L711.38 127.63 L711.63 127.63 L711.88 127.63 L712.13 127.64 L712.38 127.64 L712.63 127.64 L712.88 127.65 L713.13 127.65 L713.38 127.65 L713.63 127.65 L713.88 127.66 L714.13 127.66 L714.38 127.66 L714.63 127.66 L714.88 127.67 L715.13 127.67 L715.38 127.67 L715.63 127.67 L715.89 127.68 L716.14 127.68 L716.39 127.68 L716.64 127.68 L716.89 127.68 L717.14 127.69 L717.39 127.69 L717.64 127.69 L717.89 127.69 L718.14 127.69 L718.39 127.69 L718.64 127.7 L718.89 127.7 L719.14 127.7 L719.39 127.7 L719.64 127.7 L719.89 127.7 L720.14 127.71 L720.39 127.71 L720.64 127.71 L720.89 127.71 L721.14 127.71 L721.39 127.71 L721.64 127.71 L721.89 127.71 L722.14 127.72 L722.4 127.72 L722.65 127.72 L722.9 127.72 L723.15 127.72 L723.4 127.72 L723.65 127.72 L723.9 127.72 L724.15 127.72 L724.4 127.73 L724.65 127.73 L724.9 127.73 L725.15 127.73 L725.4 127.73 L725.65 127.73 L725.9 127.73 L726.15 127.73 L726.4 127.73 L726.65 127.73 L726.9 127.73 L727.15 127.74 L727.4 127.74 L727.65 127.74 L727.9 127.74 L728.15 127.74 L728.4 127.74 L728.65 127.74 L728.9 127.74 L729.16 127.74 L729.41 127.74 L729.66 127.74 L729.91 127.74 L730.16 127.74 L730.41 127.74 L730.66 127.75 L730.91 127.75 L731.16 127.75 L731.41 127.75 L731.66 127.75 L731.91 127.75 L732.16 127.75 L732.41 127.75 L732.66 127.75 L732.91 127.75 L733.16 127.75 L733.41 127.75 L733.66 127.75 L733.91 127.75 L734.16 127.75 L734.41 127.75 L734.66 127.75 L734.91 127.75 L735.16 127.76 L735.41 127.76 L735.67 127.76 L735.92 127.76 L736.17 127.76 L736.42 127.76 L736.67 127.76 L736.92 127.76 L737.17 127.76 L737.42 127.76 L737.67 127.76 L737.92 127.76 L738.17 127.76 L738.42 127.76 L738.67 127.76 L738.92 127.76 L739.17 127.76 L739.42 127.76 L739.67 127.76 L739.92 127.76 L740.17 127.76 L740.42 127.76 L740.67 127.76 L740.92 127.76 L741.17 127.76 L741.42 127.76 L741.67 127.77 L741.92 127.77 L742.18 127.77 L742.43 127.77 L742.68 127.77 L742.93 127.77 L743.18 127.77 L743.43 127.77 L743.68 127.77 L743.93 127.77 L744.18 127.77 L744.43 127.77 L744.68 127.77 L744.93 127.77 L745.18 127.77 L745.43 127.77 L745.68 127.77 L745.93 127.77 L746.18 127.77 L746.43 127.77 L746.68 127.77 L746.93 127.77 L747.18 127.77 L747.43 127.77 L747.68 127.77 L747.93 127.77 L748.18 127.77 L748.43 127.77 L748.68 127.77 L748.94 127.77 L749.19 127.77 L749.44 127.77 L749.69 127.77 L749.94 127.77 L750.19 127.77 L750.44 127.77 L750.69 127.77 L750.94 127.77 L751.19 127.77 L751.44 127.77 L751.69 127.78 L751.94 127.78 L752.19 127.78 L752.44 127.78 L752.69 127.78 L752.94 127.78 L753.19 127.78 L753.44 127.78 L753.69 127.78 L753.94 127.78 L754.19 127.78 L754.44 127.78 L754.69 127.78 L754.94 127.78 L755.19 127.78 L755.45 127.78 L755.7 127.78 L755.95 127.78 L756.2 127.78 L756.45 127.78 L756.7 127.78 L756.95 127.78 L757.2 127.78 L757.45 127.78 L757.7 127.78 L757.95 127.78 L758.2 127.78 L758.45 127.78 L758.7 127.78" fill="none" stroke="#808080" stroke-width="1.5"/>
<path d="M626.5 215.68 L626.75 215.67 L627 215.65 L627.25 215.63 L627.5 215.61 L627.75 215.6 L628 215.58 L628.25 215.56 L628.5 215.54 L628.75 215.52 L629 215.5 L629.25 215.47 L629.5 215.45 L629.75 215.43 L630.01 215.4 L630.26 215.38 L630.51 215.35 L630.76 215.32 L631.01 215.29 L631.26 215.27 L631.51 215.23 L631.76 215.2 L632.01 215.17 L632.26 215.14 L632.51 215.1 L632.76 215.06 L633.01 215.02 L633.26 214.98 L633.51 214.94 L633.76 214.9 L634.01 214.85 L634.26 214.8 L634.51 214.75 L634.76 214.7 L635.01 214.65 L635.26 214.59 L635.51 214.53 L635.76 214.47 L636.01 214.4 L636.26 214.33 L636.52 214.26 L636.77 214.18 L637.02 214.1 L637.27 214.02 L637.52 213.92 L637.77 213.83 L638.02 213.73 L638.27 213.62 L638.52 213.5 L638.77 213.38 L639.02 213.24 L639.27 213.09 L639.52 212.94 L639.77 212.76 L640.02 212.58 L640.27 212.37 L640.52 212.14 L640.77 211.88 L641.02 211.6 L641.27 211.28 L641.52 210.92 L641.77 210.51 L642.02 210.06 L642.27 209.54 L642.52 208.96 L642.77 208.3 L643.02 207.55 L643.28 206.71 L643.53 205.77 L643.78 204.71 L644.03 203.52 L644.28 202.2 L644.53 200.74 L644.78 199.13 L645.03 197.36 L645.28 195.43 L645.53 193.34 L645.78 191.08 L646.03 188.66 L646.28 186.09 L646.53 183.38 L646.78 180.54 L647.03 177.6 L647.28 174.58 L647.53 171.51 L647.78 168.44 L648.03 165.41 L648.28 162.49 L648.53 159.72 L648.78 157.2 L649.03 154.98 L649.28 153.15 L649.53 151.76 L649.79 150.88 L650.04 150.55 L650.29 150.92 L650.54 152.2 L650.79 154.3 L651.04 157.07 L651.29 160.37 L651.54 164.04 L651.79 167.92 L652.04 171.9 L652.29 175.85 L652.54 179.7 L652.79 183.39 L653.04 186.87 L653.29 190.1 L653.54 193.06 L653.79 195.76 L654.04 198.18 L654.29 200.33 L654.54 202.23 L654.79 203.89 L655.04 205.33 L655.29 206.57 L655.54 207.63 L655.79 208.54 L656.04 209.32 L656.3 209.98 L656.55 210.54 L656.8 211.02 L657.05 211.44 L657.3 211.79 L657.55 212.1 L657.8 212.36 L658.05 212.6 L658.3 212.81 L658.55 212.99 L658.8 213.16 L659.05 213.31 L659.3 213.45 L659.55 213.58 L659.8 213.69 L660.05 213.8 L660.3 213.9 L660.55 213.99 L660.8 214.07 L661.05 214.15 L661.3 214.22 L661.55 214.29 L661.8 214.35 L662.05 214.41 L662.3 214.47 L662.55 214.52 L662.8 214.57 L663.06 214.61 L663.31 214.65 L663.56 214.69 L663.81 214.73 L664.06 214.76 L664.31 214.79 L664.56 214.82 L664.81 214.84 L665.06 214.87 L665.31 214.89 L665.56 214.91 L665.81 214.93 L666.06 214.94 L666.31 214.96 L666.56 214.97 L666.81 214.98 L667.06 214.99 L667.31 215 L667.56 215.01 L667.81 215.02 L668.06 215.02 L668.31 215.02 L668.56 215.03 L668.81 215.03 L669.06 215.03 L669.31 215.02 L669.57 215.02 L669.82 215.02 L670.07 215.01 L670.32 215.01 L670.57 215 L670.82 214.99 L671.07 214.98 L671.32 214.97 L671.57 214.96 L671.82 214.95 L672.07 214.93 L672.32 214.92 L672.57 214.9 L672.82 214.88 L673.07 214.87 L673.32 214.85 L673.57 214.83 L673.82 214.8 L674.07 214.78 L674.32 214.76 L674.57 214.73 L674.82 214.71 L675.07 214.68 L675.32 214.65 L675.57 214.62 L675.82 214.59 L676.08 214.56 L676.33 214.53 L676.58 214.5 L676.83 214.47 L677.08 214.44 L677.33 214.4 L677.58 214.37 L677.83 214.33 L678.08 214.3 L678.33 214.27 L678.58 214.23 L678.83 214.2 L679.08 214.16 L679.33 214.13 L679.58 214.1 L679.83 214.06 L680.08 214.03 L680.33 214 L680.58 213.98 L680.83 213.95 L681.08 213.92 L681.33 213.9 L681.58 213.88 L681.83 213.86 L682.08 213.84 L682.33 213.83 L682.58 213.82 L682.84 213.81 L683.09 213.8 L683.34 213.8 L683.59 213.8 L683.84 213.8 L684.09 213.81 L684.34 213.81 L684.59 213.83 L684.84 213.84 L685.09 213.86 L685.34 213.88 L685.59 213.9 L685.84 213.93 L686.09 213.95 L686.34 213.98 L686.59 214.01 L686.84 214.05 L687.09 214.08 L687.34 214.12 L687.59 214.16 L687.84 214.19 L688.09 214.23 L688.34 214.27 L688.59 214.31 L688.84 214.35 L689.09 214.4 L689.35 214.44 L689.6 214.48 L689.85 214.52 L690.1 214.56 L690.35 214.6 L690.6 214.64 L690.85 214.68 L691.1 214.72 L691.35 214.76 L691.6 214.8 L691.85 214.84 L692.1 214.88 L692.35 214.91 L692.6 214.95 L692.85 214.98 L693.1 215.02 L693.35 215.05 L693.6 215.08 L693.85 215.11 L694.1 215.14 L694.35 215.18 L694.6 215.2 L694.85 215.23 L695.1 215.26 L695.35 215.29 L695.6 215.31 L695.85 215.34 L696.11 215.36 L696.36 215.39 L696.61 215.41 L696.86 215.43 L697.11 215.46 L697.36 215.48 L697.61 215.5 L697.86 215.52 L698.11 215.54 L698.36 215.56 L698.61 215.58 L698.86 215.59 L699.11 215.61 L699.36 215.63 L699.61 215.64 L699.86 215.66 L700.11 215.68 L700.36 215.69 L700.61 215.7 L700.86 215.72 L701.11 215.73 L701.36 215.75 L701.61 215.76 L701.86 215.77 L702.11 215.78 L702.36 215.79 L702.62 215.81 L702.87 215.82 L703.12 215.83 L703.37 215.84 L703.62 215.85 L703.87 215.86 L704.12 215.87 L704.37 215.88 L704.62 215.89 L704.87 215.89 L705.12 215.9 L705.37 215.91 L705.62 215.92 L705.87 215.93 L706.12 215.93 L706.37 215.94 L706.62 215.95 L706.87 215.95 L707.12 215.96 L707.37 215.97 L707.62 215.97 L707.87 215.98 L708.12 215.99 L708.37 215.99 L708.62 216 L708.87 216 L709.12 216.01 L709.38 216.01 L709.63 216.02 L709.88 216.02 L710.13 216.02 L710.38 216.03 L710.63 216.03 L710.88 216.04 L711.13 216.04 L711.38 216.04 L711.63 216.05 L711.88 216.05 L712.13 216.05 L712.38 216.06 L712.63 216.06 L712.88 216.06 L713.13 216.06 L713.38 216.07 L713.63 216.07 L713.88 216.07 L714.13 216.07 L714.38 216.08 L714.63 216.08 L714.88 216.08 L715.13 216.08 L715.38 216.08 L715.63 216.08 L715.89 216.08 L716.14 216.08 L716.39 216.09 L716.64 216.09 L716.89 216.09 L717.14 216.09 L717.39 216.09 L717.64 216.09 L717.89 216.09 L718.14 216.09 L718.39 216.09 L718.64 216.09 L718.89 216.09 L719.14 216.08 L719.39 216.08 L719.64 216.08 L719.89 216.08 L720.14 216.08 L720.39 216.08 L720.64 216.08 L720.89 216.07 L721.14 216.07 L721.39 216.07 L721.64 216.07 L721.89 216.06 L722.14 216.06 L722.4 216.06 L722.65 216.05 L722.9 216.05 L723.15 216.05 L723.4 216.04 L723.65 216.04 L723.9 216.03 L724.15 216.03 L724.4 216.02 L724.65 216.02 L724.9 216.01 L725.15 216 L725.4 216 L725.65 215.99 L725.9 215.98 L726.15 215.97 L726.4 215.96 L726.65 215.95 L726.9 215.94 L727.15 215.93 L727.4 215.92 L727.65 215.91 L727.9 215.9 L728.15 215.89 L728.4 215.87 L728.65 215.86 L728.9 215.84 L729.16 215.83 L729.41 215.81 L729.66 215.79 L729.91 215.77 L730.16 215.75 L730.41 215.73 L730.66 215.71 L730.91 215.68 L731.16 215.66 L731.41 215.63 L731.66 215.6 L731.91 215.57 L732.16 215.53 L732.41 215.5 L732.66 215.46 L732.91 215.42 L733.16 215.37 L733.41 215.33 L733.66 215.27 L733.91 215.22 L734.16 215.16 L734.41 215.09 L734.66 215.02 L734.91 214.95 L735.16 214.86 L735.41 214.77 L735.67 214.68 L735.92 214.57 L736.17 214.45 L736.42 214.32 L736.67 214.18 L736.92 214.02 L737.17 213.85 L737.42 213.65 L737.67 213.44 L737.92 213.2 L738.17 212.94 L738.42 212.64 L738.67 212.31 L738.92 211.94 L739.17 211.52 L739.42 211.05 L739.67 210.52 L739.92 209.93 L740.17 209.27 L740.42 208.53 L740.67 207.72 L740.92 206.84 L741.17 205.89 L741.42 204.91 L741.67 203.92 L741.92 202.96 L742.18 202.11 L742.43 201.42 L742.68 200.97 L742.93 200.8 L743.18 200.92 L743.43 201.33 L743.68 201.98 L743.93 202.82 L744.18 203.76 L744.43 204.75 L744.68 205.74 L744.93 206.69 L745.18 207.59 L745.43 208.41 L745.68 209.16 L745.93 209.84 L746.18 210.44 L746.43 210.98 L746.68 211.46 L746.93 211.89 L747.18 212.27 L747.43 212.61 L747.68 212.92 L747.93 213.19 L748.18 213.43 L748.43 213.65 L748.68 213.85 L748.94 214.03 L749.19 214.19 L749.44 214.33 L749.69 214.47 L749.94 214.59 L750.19 214.7 L750.44 214.8 L750.69 214.9 L750.94 214.98 L751.19 215.06 L751.44 215.13 L751.69 215.2 L751.94 215.26 L752.19 215.32 L752.44 215.37 L752.69 215.42 L752.94 215.47 L753.19 215.51 L753.44 215.56 L753.69 215.59 L753.94 215.63 L754.19 215.66 L754.44 215.69 L754.69 215.72 L754.94 215.75 L755.19 215.78 L755.45 215.8 L755.7 215.83 L755.95 215.85 L756.2 215.87 L756.45 215.89 L756.7 215.91 L756.95 215.93 L757.2 215.95 L757.45 215.96 L757.7 215.98 L757.95 215.99 L758.2 216.01 L758.45 216.02 L758.7 216.03" fill="none" stroke="#000" stroke-width="1.5"/>
<path d="M626.5 215.69 L626.75 215.66 L627 215.07 L627.25 214.91 L627.5 214.79 L627.75 215 L628 214.9 L628.25 214.89 L628.5 214.77 L628.75 214.61 L629 214.68 L629.25 214.82 L629.5 215.21 L629.75 215.02 L630.01 214.75 L630.26 214.34 L630.51 214.03 L630.76 214.15 L631.01 213.99 L631.26 213.96 L631.51 213.69 L631.76 213.99 L632.01 214.11 L632.26 213.88 L632.51 213.45 L632.76 213.4 L633.01 213.42 L633.26 213.29 L633.51 213.04 L633.76 213.05 L634.01 213.33 L634.26 213.04 L634.51 212.69 L634.76 212.12 L635.01 211.79 L635.26 211.57 L635.51 211.36 L635.76 211.71 L636.01 211.63 L636.26 211.34 L636.52 211.05 L636.77 210.78 L637.02 210.52 L637.27 210.07 L637.52 209.76 L637.77 209.6 L638.02 209.38 L638.27 208.8 L638.52 208.53 L638.77 208.3 L639.02 208.36 L639.27 208.13 L639.52 207.67 L639.77 207.27 L640.02 206.39 L640.27 205.77 L640.52 204.65 L640.77 204.06 L641.02 202.93 L641.27 202.59 L641.52 202.06 L641.77 201.43 L642.02 200.59 L642.27 199.27 L642.52 198.24 L642.77 196.83 L643.02 195.54 L643.28 194.27 L643.53 193.14 L643.78 191.66 L644.03 190.17 L644.28 188.2 L644.53 186.88 L644.78 184.98 L645.03 183.19 L645.28 181.03 L645.53 178.92 L645.78 176.46 L646.03 174.36 L646.28 171.86 L646.53 169.82 L646.78 167.39 L647.03 165.17 L647.28 162.88 L647.53 160.76 L647.78 158.77 L648.03 156.64 L648.28 154.23 L648.53 152.49 L648.78 151.19 L649.03 150.49 L649.28 149.74 L649.53 149.47 L649.79 149.39 L650.04 149.81 L650.29 150.5 L650.54 151.44 L650.79 152.69 L651.04 154.47 L651.29 156.52 L651.54 158.35 L651.79 160.14 L652.04 162.34 L652.29 165.02 L652.54 167.41 L652.79 169.6 L653.04 171.65 L653.29 174.03 L653.54 176.41 L653.79 178.63 L654.04 180.62 L654.29 182.55 L654.54 184.68 L654.79 186.47 L655.04 188.37 L655.29 190.06 L655.54 191.82 L655.79 193.12 L656.04 194.6 L656.3 195.74 L656.55 197.17 L656.8 198.01 L657.05 198.93 L657.3 199.91 L657.55 201.01 L657.8 202.13 L658.05 202.96 L658.3 203.57 L658.55 204.18 L658.8 204.76 L659.05 205.75 L659.3 206.55 L659.55 207.02 L659.8 207.3 L660.05 207.56 L660.3 207.99 L660.55 208.42 L660.8 208.78 L661.05 208.94 L661.3 208.99 L661.55 209.37 L661.8 209.92 L662.05 210.5 L662.3 210.62 L662.55 210.94 L662.8 211.03 L663.06 211.32 L663.31 211.52 L663.56 211.71 L663.81 211.77 L664.06 211.97 L664.31 211.86 L664.56 212.14 L664.81 212.11 L665.06 212.49 L665.31 212.49 L665.56 212.6 L665.81 212.62 L666.06 212.99 L666.31 212.97 L666.56 213.09 L666.81 212.99 L667.06 213 L667.31 213.47 L667.56 213.57 L667.81 213.62 L668.06 213.49 L668.31 213.41 L668.56 213.75 L668.81 213.72 L669.06 213.84 L669.31 213.77 L669.57 213.6 L669.82 213.73 L670.07 213.59 L670.32 213.52 L670.57 213.56 L670.82 213.99 L671.07 214.3 L671.32 214.61 L671.57 214.58 L671.82 214.43 L672.07 214.17 L672.32 213.78 L672.57 213.73 L672.82 213.61 L673.07 213.97 L673.32 214.22 L673.57 214.29 L673.82 214.17 L674.07 213.84 L674.32 213.91 L674.57 214.03 L674.82 214.33 L675.07 214.22 L675.32 214.48 L675.57 214.58 L675.82 214.67 L676.08 214.28 L676.33 214.04 L676.58 214.06 L676.83 214.11 L677.08 214.21 L677.33 214.28 L677.58 214.47 L677.83 214.54 L678.08 214.38 L678.33 214.2 L678.58 213.94 L678.83 213.84 L679.08 214.03 L679.33 213.99 L679.58 214.34 L679.83 213.96 L680.08 214.03 L680.33 213.86 L680.58 213.88 L680.83 213.86 L681.08 213.62 L681.33 213.5 L681.58 213.38 L681.83 213.28 L682.08 213.56 L682.33 213.53 L682.58 213.85 L682.84 213.17 L683.09 213.16 L683.34 212.96 L683.59 213.29 L683.84 213.43 L684.09 213.42 L684.34 213.41 L684.59 213.3 L684.84 213.61 L685.09 213.68 L685.34 213.66 L685.59 213.17 L685.84 213.16 L686.09 212.93 L686.34 212.98 L686.59 213.35 L686.84 213.72 L687.09 213.87 L687.34 213.7 L687.59 213.85 L687.84 213.88 L688.09 214.07 L688.34 213.99 L688.59 213.97 L688.84 213.97 L689.09 213.51 L689.35 213.45 L689.6 213.29 L689.85 213.56 L690.1 213.68 L690.35 213.61 L690.6 213.71 L690.85 214.2 L691.1 214.45 L691.35 214.61 L691.6 214.46 L691.85 214.4 L692.1 214.6 L692.35 214.52 L692.6 214.86 L692.85 214.58 L693.1 214.7 L693.35 214.53 L693.6 214.63 L693.85 214.74 L694.1 214.64 L694.35 215.12 L694.6 215.09 L694.85 215.38 L695.1 215.2 L695.35 215.31 L695.6 214.98 L695.85 215.03 L696.11 214.85 L696.36 215.22 L696.61 215.24 L696.86 215.48 L697.11 215.35 L697.36 215.68 L697.61 215.97 L697.86 216.11 L698.11 215.87 L698.36 215.6 L698.61 215.86 L698.86 216.18 L699.11 215.99 L699.36 215.74 L699.61 215.33 L699.86 215.38 L700.11 215.25 L700.36 215.5 L700.61 215.52 L700.86 216.02 L701.11 216.13 L701.36 216.17 L701.61 215.82 L701.86 215.62 L702.11 216 L702.36 216.05 L702.62 215.94 L702.87 215.75 L703.12 215.95 L703.37 216.1 L703.62 216.37 L703.87 216.37 L704.12 216.55 L704.37 216.2 L704.62 216.17 L704.87 216.1 L705.12 215.9 L705.37 215.97 L705.62 215.74 L705.87 216.09 L706.12 215.84 L706.37 216.42 L706.62 216.49 L706.87 216.85 L707.12 216.7 L707.37 216.46 L707.62 216 L707.87 215.82 L708.12 216.17 L708.37 216.53 L708.62 216.71 L708.87 216.73 L709.12 216.5 L709.38 216.43 L709.63 216.59 L709.88 216.74 L710.13 216.4 L710.38 216.07 L710.63 216.1 L710.88 216.47 L711.13 216.38 L711.38 216.47 L711.63 216.07 L711.88 216.34 L712.13 216.57 L712.38 217.1 L712.63 216.75 L712.88 216.56 L713.13 215.92 L713.38 216.19 L713.63 216.14 L713.88 216.44 L714.13 216.45 L714.38 216.48 L714.63 216.77 L714.88 216.74 L715.13 216.75 L715.38 216.32 L715.63 216.13 L715.89 216.02 L716.14 216.35 L716.39 216.53 L716.64 216.82 L716.89 216.64 L717.14 216.6 L717.39 216.41 L717.64 216.51 L717.89 216.61 L718.14 216.48 L718.39 216.73 L718.64 216.6 L718.89 216.85 L719.14 216.62 L719.39 216.89 L719.64 216.5 L719.89 216.58 L720.14 216.28 L720.39 216.52 L720.64 216.61 L720.89 216.49 L721.14 216.25 L721.39 215.91 L721.64 216.1 L721.89 216.01 L722.14 216.16 L722.4 215.91 L722.65 216.01 L722.9 215.93 L723.15 216.16 L723.4 216.22 L723.65 216.18 L723.9 216.1 L724.15 216.14 L724.4 215.79 L724.65 215.71 L724.9 215.74 L725.15 216.28 L725.4 216.63 L725.65 216.69 L725.9 216.51 L726.15 216.03 L726.4 215.91 L726.65 215.98 L726.9 216.29 L727.15 216.11 L727.4 215.99 L727.65 215.88 L727.9 216.25 L728.15 216.21 L728.4 215.96 L728.65 215.54 L728.9 215.39 L729.16 215.33 L729.41 215.5 L729.66 215.65 L729.91 215.8 L730.16 215.79 L730.41 215.5 L730.66 215.37 L730.91 215.06 L731.16 215.05 L731.41 215.1 L731.66 215.06 L731.91 214.68 L732.16 214.36 L732.41 214.15 L732.66 214.09 L732.91 213.89 L733.16 214.01 L733.41 214.35 L733.66 214.25 L733.91 214.1 L734.16 213.86 L734.41 213.58 L734.66 213.24 L734.91 212.85 L735.16 212.83 L735.41 212.37 L735.67 212.07 L735.92 211.93 L736.17 212.07 L736.42 212.09 L736.67 211.54 L736.92 211.27 L737.17 210.7 L737.42 210.13 L737.67 209.5 L737.92 208.86 L738.17 208.61 L738.42 207.9 L738.67 207.51 L738.92 206.81 L739.17 206.06 L739.42 205.26 L739.67 204.44 L739.92 203.54 L740.17 202.67 L740.42 201.6 L740.67 200.57 L740.92 199.26 L741.17 198.06 L741.42 197.04 L741.67 196.39 L741.92 195.53 L742.18 194.75 L742.43 193.56 L742.68 193.02 L742.93 192.83 L743.18 192.91 L743.43 192.9 L743.68 192.86 L743.93 193 L744.18 193.54 L744.43 194.13 L744.68 194.96 L744.93 196.07 L745.18 197.3 L745.43 198.54 L745.68 199.52 L745.93 200.26 L746.18 201.19 L746.43 202.05 L746.68 203.32 L746.93 204.3 L747.18 205.38 L747.43 205.97 L747.68 206.35 L747.93 207.06 L748.18 207.92 L748.43 208.56 L748.68 208.98 L748.94 209.47 L749.19 210 L749.44 210.67 L749.69 210.84 L749.94 211.21 L750.19 211.5 L750.44 211.91 L750.69 212.27 L750.94 212.48 L751.19 212.4 L751.44 213 L751.69 212.97 L751.94 213.52 L752.19 213.38 L752.44 213.75 L752.69 214.01 L752.94 214.11 L753.19 214.31 L753.44 214.28 L753.69 214.43 L753.94 214.4 L754.19 214.41 L754.44 214.51 L754.69 214.79 L754.94 215.02 L755.19 215.4 L755.45 215.41 L755.7 215.37 L755.95 214.99 L756.2 214.9 L756.45 215.16 L756.7 215.52 L756.95 215.56 L757.2 215.74 L757.45 215.53 L757.7 215.53 L757.95 215.45 L758.2 216.09 L758.45 216.39 L758.7 216.42" fill="none" stroke="#f00" stroke-width="1.5"/>
<rect x="626.5" y="43.3" width="132.2" height="175.4" fill="none" stroke="#000" stroke-width="1.4"/>
<line x1="626.5" y1="131.5" x2="758.7" y2="131.5" stroke="#000" stroke-width="1.4" />
<line x1="626.5" y1="218.7" x2="626.5" y2="224.7" stroke="#000" stroke-width="1.4" />
<line x1="652.94" y1="218.7" x2="652.94" y2="224.7" stroke="#000" stroke-width="1.4" />
<line x1="679.38" y1="218.7" x2="679.38" y2="224.7" stroke="#000" stroke-width="1.4" />
<line x1="705.82" y1="218.7" x2="705.82" y2="224.7" stroke="#000" stroke-width="1.4" />
<line x1="732.26" y1="218.7" x2="732.26" y2="224.7" stroke="#000" stroke-width="1.4" />
<line x1="758.7" y1="218.7" x2="758.7" y2="224.7" stroke="#000" stroke-width="1.4" />
<line x1="639.72" y1="218.7" x2="639.72" y2="221.7" stroke="#000" stroke-width="1.4" />
<line x1="666.16" y1="218.7" x2="666.16" y2="221.7" stroke="#000" stroke-width="1.4" />
<line x1="692.6" y1="218.7" x2="692.6" y2="221.7" stroke="#000" stroke-width="1.4" />
<line x1="719.04" y1="218.7" x2="719.04" y2="221.7" stroke="#000" stroke-width="1.4" />
<line x1="745.48" y1="218.7" x2="745.48" y2="221.7" stroke="#000" stroke-width="1.4" />
<text x="626.5" y="238.8" font-size="12.5" text-anchor="middle" fill="#000" >22</text>
<text x="652.94" y="238.8" font-size="12.5" text-anchor="middle" fill="#000" >24</text>
<text x="679.38" y="238.8" font-size="12.5" text-anchor="middle" fill="#000" >26</text>
<text x="705.82" y="238.8" font-size="12.5" text-anchor="middle" fill="#000" >28</text>
<text x="732.26" y="238.8" font-size="12.5" text-anchor="middle" fill="#000" >30</text>
<text x="758.7" y="238.8" font-size="12.5" text-anchor="middle" fill="#000" >32</text>
<text x="692" y="263.2" font-size="12.7" text-anchor="middle" fill="#000" >2 <tspan font-style="italic">&#952;</tspan> / &#176;</text>
<text x="603" y="19.5" font-size="12.5" text-anchor="start" fill="#000" >d)</text>
<text x="687.5" y="55.6" font-size="12.5" text-anchor="middle" fill="#000" >(002)</text>
<text x="628.2" y="122.6" font-size="12.5" text-anchor="start" fill="#000" >pristine</text>
<text x="629.2" y="144.6" font-size="12.5" text-anchor="start" fill="#000" >(00<tspan font-style="italic">n</tspan> + 1)</text>
<text x="706.6" y="192.3" font-size="12.5" text-anchor="start" fill="#000" >(00<tspan font-style="italic">n</tspan> + 2)</text>
<line x1="694.5" y1="139.7" x2="709.5" y2="139.7" stroke="#f00" stroke-width="1.5" />
<text x="716.2" y="144" font-size="12.5" text-anchor="start" fill="#000" >Mg-Pyr</text>
<line x1="694.5" y1="155.4" x2="709.5" y2="155.4" stroke="#000" stroke-width="1.5" />
<text x="716.2" y="159.7" font-size="12.5" text-anchor="start" fill="#000" >Li-Pyr</text>
<text transform="translate(615.1,131.2) rotate(-90)" font-size="12.5" text-anchor="middle">Normalized Intensity / a.u.</text>
</svg></body></html>
